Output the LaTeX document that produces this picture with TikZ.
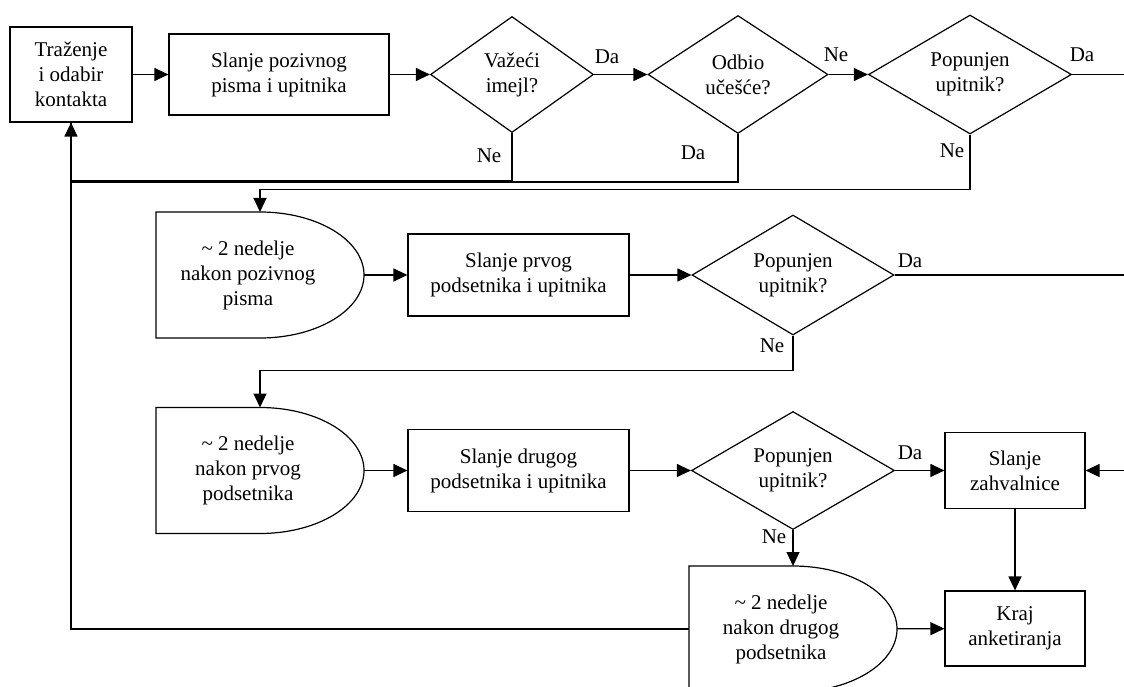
\documentclass[tikz,border=0pt]{standalone}
\usepackage{fontspec}
\setmainfont{Liberation Serif}
\usetikzlibrary{shapes.geometric,arrows.meta}
\begin{document}
\begin{tikzpicture}[x=1pt, y=1pt, font=\fontsize{21}{25}\selectfont, line width=1.2pt, >={Triangle[length=14pt,width=13pt]},
	box/.style={draw, rectangle, align=center, inner sep=0pt},
	dec/.style={draw, diamond, aspect=1.7, align=center, inner sep=0pt},
	delay/.style={rectangle, inner sep=0pt, outer sep=0pt, minimum width=208pt, minimum height=126pt},
	waittext/.style={xshift=-12pt, align=center, inner sep=0pt},
	lbl/.style={inner sep=0pt}]
	\useasboundingbox (0,0) rectangle (1124,-687);
	% first row
	\node[box, minimum width=122pt, minimum height=95pt] (b1) at (71,-74.5) {Traženje\\i odabir\\kontakta};
	\node[box, minimum width=220pt, minimum height=81pt] (b2) at (279,-74.5) {Slanje pozivnog\\pisma i upitnika};
	\node[dec, minimum width=163pt, minimum height=116pt] (d1) at (512,-74.5) {Važeći\\imejl?};
	\node[dec, minimum width=180pt, minimum height=118pt] (d2) at (738,-74.5) {Odbio\\učešće?};
	\node[dec, minimum width=203pt, minimum height=119pt] (d3) at (970,-74.5) {Popunjen\\upitnik?};
	% second row
	\node[delay, label={[waittext]center:{\textasciitilde{} 2 nedelje\\nakon pozivnog\\pisma}}] (w1) at (260,-275) {};
	\node[box, minimum width=221pt, minimum height=82pt] (b3) at (518.5,-275) {Slanje prvog\\podsetnika i upitnika};
	\node[dec, minimum width=202pt, minimum height=120pt] (d4) at (793,-275) {Popunjen\\upitnik?};
	% third row
	\node[delay, label={[waittext]center:{\textasciitilde{} 2 nedelje\\nakon prvog\\podsetnika}}] (w2) at (260,-470.5) {};
	\node[box, minimum width=221pt, minimum height=82pt] (b4) at (518.5,-470.5) {Slanje drugog\\podsetnika i upitnika};
	\node[dec, minimum width=203pt, minimum height=118pt] (d5) at (793,-470.5) {Popunjen\\upitnik?};
	\node[box, minimum width=140pt, minimum height=76pt] (b5) at (1015,-470.5) {Slanje\\zahvalnice};
	% last row
	\node[delay, label={[waittext]center:{\textasciitilde{} 2 nedelje\\nakon drugog\\podsetnika}}] (w3) at (793,-629) {};
	\node[box, minimum width=140pt, minimum height=75pt] (b6) at (1015,-628.5) {Kraj\\anketiranja};
	\foreach \w in {w1,w2,w3}
		\draw (\w.north west) -- (\w.north) arc[start angle=90, end angle=-90, x radius=104pt, y radius=63pt] -- (\w.south west) -- cycle;
	\coordinate (e1) at (1130,-74.5);
	\coordinate (e2) at (1130,-275);
	\coordinate (e3) at (1130,-470.5);
	% connectors
	\draw[->] (b1) -- (b2);
	\draw[->] (b2) -- (d1);
	\draw[->] (d1) -- (d2);
	\draw[->] (d2) -- (d3);
	\draw (d3.east) -- (e1);
	\draw (d1.south) -- ++(0,-47.5) -| (b1.south);
	\draw (d2.south) -- ++(0,-48) -| (b1.south);
	\draw[->] (w3.west) -| (b1.south);
	\draw[->] (d3.south) -- ++(0,-55) -| (w1.north);
	\draw[->] (w1) -- (b3);
	\draw[->] (b3) -- (d4);
	\draw (d4.east) -- (e2);
	\draw[->] (d4.south) -- ++(0,-35) -| (w2.north);
	\draw[->] (w2) -- (b4);
	\draw[->] (b4) -- (d5);
	\draw[->] (d5) -- (b5);
	\draw[->] (e3) -- (b5);
	\draw[->] (d5) -- (w3);
	\draw[->] (b5) -- (b6);
	\draw[->] (w3) -- (b6);
	% answers
	\node[lbl] (da1) at (607,-57) {Da};
	\node[lbl] (ne1) at (489,-156) {Ne};
	\node[lbl] (ne2) at (836,-55) {Ne};
	\node[lbl] (da2) at (693,-153) {Da};
	\node[lbl] (da3) at (1082,-55) {Da};
	\node[lbl] (ne3) at (952,-151) {Ne};
	\node[lbl] (da4) at (910,-261) {Da};
	\node[lbl] (ne4) at (772,-346) {Ne};
	\node[lbl] (da5) at (910,-453) {Da};
	\node[lbl] (ne5) at (774,-537) {Ne};
\end{tikzpicture}
\end{document}
